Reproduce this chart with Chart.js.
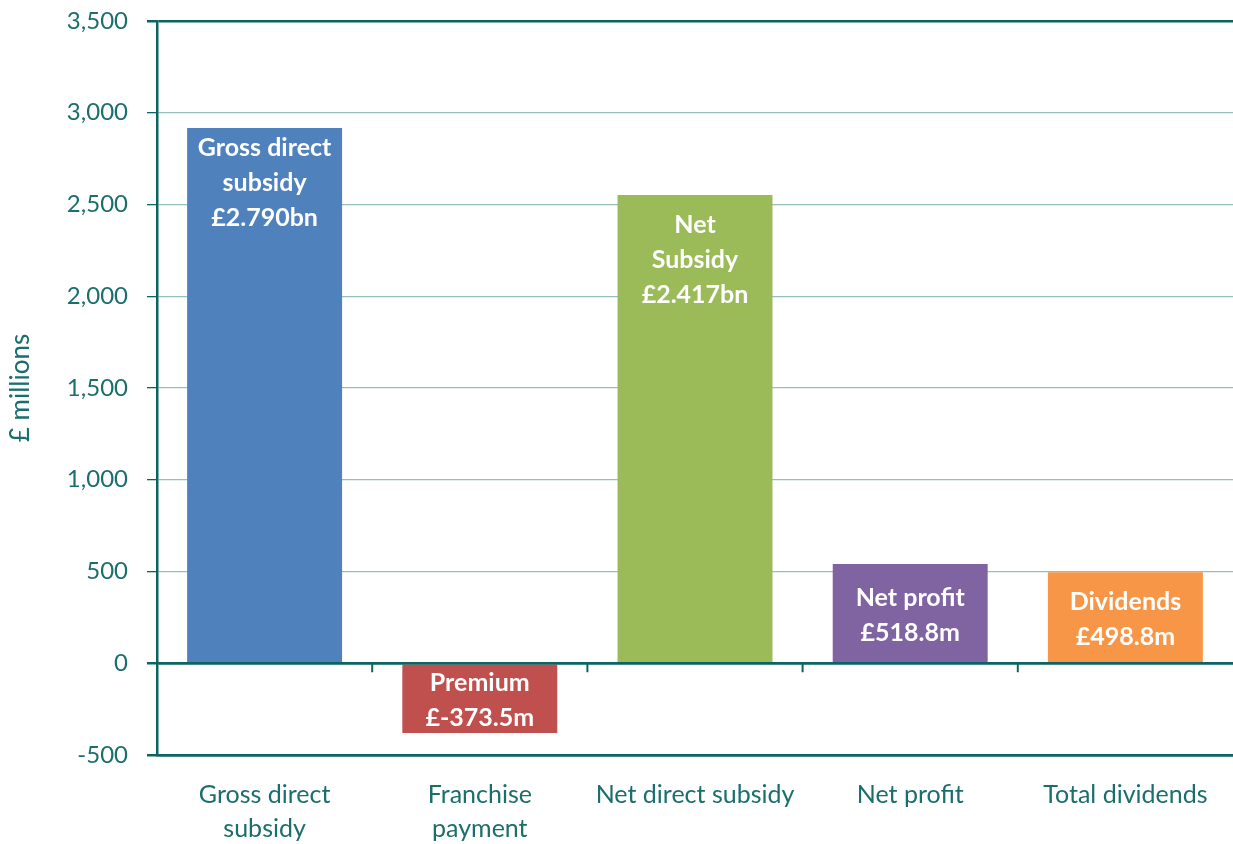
<!DOCTYPE html>
<html lang="en">
<head>
    <meta charset="UTF-8">
    <title>Rail franchise subsidy, profit and dividends</title>
    <style>
        body, html {
            margin: 0;
            padding: 0;
            background: #ffffff;
        }
        .chart-box {
            width: 1233px;
            height: 844px;
        }
    </style>
</head>
<body>
    <div class="chart-box">
        <canvas id="chart1"></canvas>
    </div>

    <script src="https://cdn.jsdelivr.net/npm/chart.js"></script>
    <script>
        // values (£ millions)
        var categories = [['Gross direct', 'subsidy'], ['Franchise', 'payment'], 'Net direct subsidy', 'Net profit', 'Total dividends'];
        var values = [2917, -380, 2552, 541, 496];
        var barLabels = [
            ['Gross direct', 'subsidy', '£2.790bn'],
            ['Premium', '£-373.5m'],
            ['Net', 'Subsidy', '£2.417bn'],
            ['Net profit', '£518.8m'],
            ['Dividends', '£498.8m']
        ];
        var barColors = ['#4F81BD', '#C0504D', '#9BBB59', '#8064A2', '#F79646'];
        var yMin = -500, yMax = 3500, yStep = 500;

        var teal = '#0B6463';
        var tealText = '#1A6E6C';
        var gridLight = '#93BFBF';
        var font = 'Lato, "Open Sans", sans-serif';

        // labels in the two tall bars sit near the top, the others are centred
        var labelTopOffset = [20, null, 30, null, null];

        var barText = {
            id: 'barText',
            afterDatasetsDraw: function(chart) {
                var ctx = chart.ctx;
                var meta = chart.getDatasetMeta(0);
                var y = chart.scales.y;
                var x = chart.scales.x;
                var zero = y.getPixelForValue(0);

                ctx.save();
                // zero line on top of bars
                ctx.strokeStyle = teal;
                ctx.lineWidth = 2.5;
                ctx.beginPath();
                ctx.moveTo(chart.chartArea.left, zero);
                ctx.lineTo(chart.chartArea.right, zero);
                ctx.stroke();

                // category boundary ticks hanging off the zero line
                ctx.lineWidth = 2;
                for (var i = 0; i < categories.length - 1; i++) {
                    var bx = (x.getPixelForValue(i) + x.getPixelForValue(i + 1)) / 2;
                    ctx.beginPath();
                    ctx.moveTo(bx, zero);
                    ctx.lineTo(bx, zero + 9);
                    ctx.stroke();
                }

                // white labels inside bars
                ctx.fillStyle = '#ffffff';
                ctx.font = 'bold 25px ' + font;
                ctx.textAlign = 'center';
                ctx.textBaseline = 'middle';
                var lh = 35;
                meta.data.forEach(function(bar, i) {
                    var lines = barLabels[i];
                    var top = Math.min(bar.y, bar.base);
                    var bottom = Math.max(bar.y, bar.base);
                    var first;
                    if (labelTopOffset[i] !== null) {
                        first = top + labelTopOffset[i];
                    } else {
                        first = (top + bottom) / 2 - (lines.length - 1) * lh / 2 + 2;
                    }
                    lines.forEach(function(t, k) {
                        ctx.fillText(t, bar.x, first + k * lh);
                    });
                });
                ctx.restore();
            }
        };

        window.onload = function() {
            var ctx1 = document.getElementById('chart1').getContext('2d');
            var chart1 = new Chart(ctx1, {
                type: 'bar',
                data: {
                    labels: categories,
                    datasets: [{
                        data: values,
                        backgroundColor: barColors,
                        borderWidth: 0,
                        barPercentage: 0.72,
                        categoryPercentage: 1
                    }]
                },
                options: {
                    responsive: true,
                    maintainAspectRatio: false,
                    animation: false,
                    layout: {
                        padding: { top: 21, right: 0, bottom: 0, left: 0 }
                    },
                    plugins: {
                        legend: { display: false },
                        tooltip: { enabled: false }
                    },
                    scales: {
                        x: {
                            grid: { display: false, drawTicks: false },
                            border: { color: teal, width: 2.5 },
                            ticks: {
                                color: tealText,
                                padding: 23,
                                maxRotation: 0,
                                autoSkip: false,
                                font: { family: font, size: 25, lineHeight: 1.35 }
                            },
                            afterFit: function(scale) {
                                scale.height = 89;
                                scale.paddingLeft = 0;
                                scale.paddingRight = 0;
                            }
                        },
                        y: {
                            min: yMin,
                            max: yMax,
                            ticks: {
                                stepSize: yStep,
                                color: tealText,
                                padding: 19,
                                font: { family: font, size: 24 },
                                callback: function(v) { return v.toLocaleString('en-GB'); }
                            },
                            grid: {
                                color: function(c) {
                                    var v = c.tick ? c.tick.value : 0;
                                    return (v === yMin || v === yMax || v === 0) ? teal : gridLight;
                                },
                                lineWidth: function(c) {
                                    var v = c.tick ? c.tick.value : 0;
                                    return (v === yMin || v === yMax || v === 0) ? 2.5 : 1.3;
                                },
                                tickColor: teal,
                                tickLength: 10
                            },
                            border: { color: teal, width: 2.5 },
                            title: {
                                display: true,
                                text: '£ millions',
                                color: tealText,
                                padding: { top: 5, bottom: 0 },
                                font: { family: font, size: 26 }
                            },
                            afterFit: function(scale) {
                                scale.width = 157;
                                scale.paddingTop = 0;
                                scale.paddingBottom = 0;
                            }
                        }
                    }
                },
                plugins: [barText]
            });
        };
    </script>
</body>
</html>
